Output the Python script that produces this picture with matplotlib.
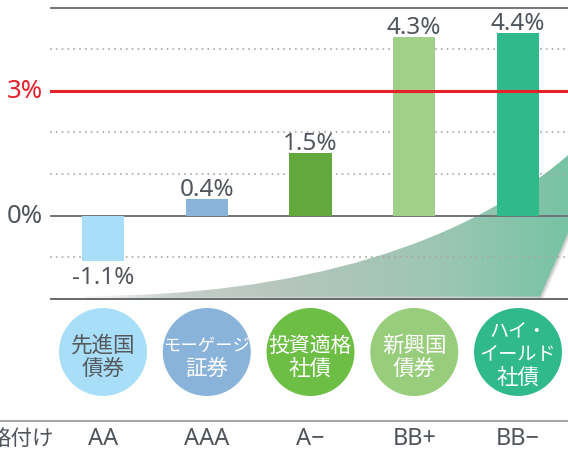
import numpy as np
import matplotlib
matplotlib.use("Agg")
import matplotlib.pyplot as plt
from matplotlib.path import Path
from matplotlib.patches import PathPatch
from matplotlib import transforms
from matplotlib.colors import LinearSegmentedColormap

plt.rcParams['font.family'] = ['Noto Sans', 'Noto Sans CJK JP', 'DejaVu Sans']

# data
ratings = ['AA', 'AAA', 'A−', 'BB+', 'BB−']
returns = [-1.1, 0.4, 1.5, 4.3, 4.4]
value_labels = ['-1.1%', '0.4%', '1.5%', '4.3%', '4.4%']
assets = [['先進国', '債券'], ['モーゲージ', '証券'], ['投資適格', '社債'],
          ['新興国', '債券'], ['ハイ・', 'イールド', '社債']]
bar_colors = ['#A8DEF8', '#8AB3DA', '#63A83A', '#A0D08A', '#30BA8B']
circle_colors = ['#A8DEF8', '#8AB3DA', '#6DBE45', '#98CD7C', '#30BA8B']
circle_text_colors = ['#555A5F', 'white', 'white', 'white', 'white']
rating_title = '格付け'
target = 3
dark = '#50555B'

fig = plt.figure(figsize=(5.68, 4.52), dpi=100)

# main chart area (pixel 50..568 horizontally, 4..304 vertically)
ax = fig.add_axes([50 / 568, 1 - 304 / 452, 518 / 568, 300 / 452])
ax.set_xlim(-0.511, 4.482)
ax.set_ylim(-2.108, 5.12)
ax.axis('off')

x = np.arange(len(ratings))

# decorative arrow behind the bars
verts = [(-0.173, -1.94), (1.899, -1.94), (3.537, -0.687), (4.549, 1.602),
         (4.549, -0.036), (4.212, -1.952), (-0.173, -1.952), (-0.173, -1.94)]
codes = [Path.MOVETO, Path.CURVE4, Path.CURVE4, Path.CURVE4,
         Path.LINETO, Path.LINETO, Path.LINETO, Path.CLOSEPOLY]
arrow = Path(verts, codes)

for off, a in [(3, 0.12), (2, 0.18), (1, 0.2)]:
    sh = PathPatch(arrow, facecolor='#7A8580', edgecolor='none', alpha=a, zorder=0.5,
                   transform=transforms.offset_copy(ax.transData, fig, x=off, y=-off, units='dots'))
    ax.add_patch(sh)

patch = PathPatch(arrow, facecolor='none', edgecolor='none', zorder=1)
ax.add_patch(patch)
cmap = LinearSegmentedColormap.from_list('arrow', [
    (0.0, '#F4F5F5'), (0.2, '#C6CEC9'), (0.42, '#B4C5BC'),
    (0.72, '#9CC6B4'), (1.0, '#74C3A3')])
grad = np.linspace(0, 1, 256).reshape(1, -1)
im = ax.imshow(grad, cmap=cmap, extent=[-0.2, 4.6, -2.0, 1.7], aspect='auto',
               interpolation='bilinear', zorder=1)
im.set_clip_path(patch)

# grid lines
for yv in [4, 2, 1, -1]:
    ax.axhline(yv, color='#A8A8A8', lw=1.2, linestyle=(0, (1, 2.5)), zorder=2)
ax.axhline(5, color='#5A5F64', lw=1.2, zorder=3)
ax.axhline(-2, color='#5A5F64', lw=1.3, zorder=3)
ax.axhline(0, color='#6E7378', lw=1.4, zorder=3)

ax.bar(x, returns, width=0.405, color=bar_colors, zorder=4)
ax.axhline(target, color='#E8202A', lw=2.2, zorder=5)

for xi, v, lab in zip(x, returns, value_labels):
    off = 3 if v >= 0 else -15.5
    ax.annotate(lab, (xi, v), xytext=(0, off), textcoords='offset points',
                ha='center', va='baseline', fontsize=17.5, color=dark)

ytr = ax.get_yaxis_transform()
ax.annotate('3%', (0, target), xycoords=ytr, xytext=(-5, 0), textcoords='offset points',
            ha='right', va='center', fontsize=18.5, color='#E8202A')
ax.annotate('0%', (0, 0), xycoords=ytr, xytext=(-5, 0), textcoords='offset points',
            ha='right', va='center', fontsize=18.5, color=dark)

# lower area: circles and ratings (y in pixels from top)
ax2 = fig.add_axes([0, 0, 1, 148 / 452])
ax2.set_xlim(-0.9928, 4.4819)
ax2.set_ylim(452, 304)
ax2.axis('off')

ax2.scatter(x, [353] * len(x), s=4014, c=circle_colors, linewidths=0, zorder=2)
for xi, lines, tc in zip(x, assets, circle_text_colors):
    n = len(lines)
    if n == 2:
        ys = [346, 369]
    else:
        ys = [331, 355, 378]
    for line, yy in zip(lines, ys):
        kana = any('\u30a0' <= ch <= '\u30ff' for ch in line)
        if kana:
            fs = 12.5 if len(line) > 4 else 13.8
        else:
            fs = 15.5 if len(line) < 4 else 15
        ax2.text(xi, yy, line, ha='center', va='center', fontsize=fs, color=tc,
                 family=['Noto Sans CJK JP'], zorder=3)

ax2.axhline(421.7, color='#A5A9AD', lw=1.5)
for xi, r in zip(x, ratings):
    ax2.text(xi, 439, r, ha='center', va='center', fontsize=17, color=dark)
ax2.text(-0.472, 439, rating_title, ha='right', va='center', fontsize=15.5, color=dark,
         family=['Noto Sans CJK JP'])

fig.savefig('out.png', dpi=100)
